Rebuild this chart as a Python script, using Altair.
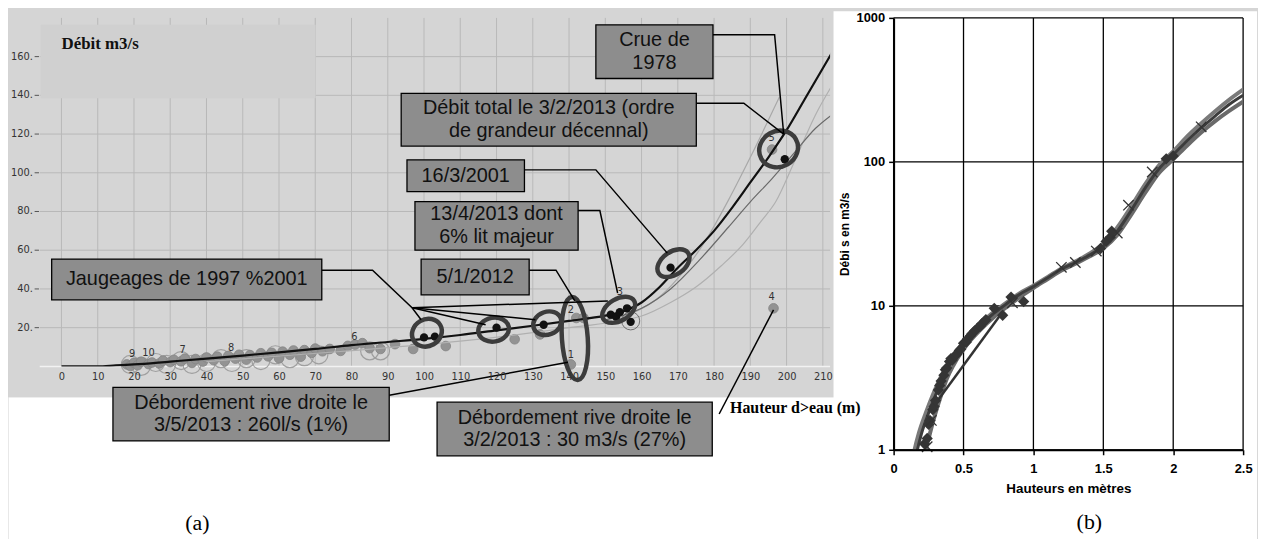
import altair as alt
import pandas as pd

NARROW = "Liberation Sans Narrow, DejaVu Sans Condensed, Liberation Sans"
SANS = "Liberation Sans"
SERIF = "Liberation Serif"

# ================= panel (a) data =================
x_ticks_a = list(range(0, 220, 10))
y_ticks_a = [20, 40, 60, 80, 100, 120, 140, 160]
y_tick_labels_a = ["20.", "40.", "60.", "80.", "100.", "120.", "140.", "160."]

# gray gaugings
gray_x = [18, 19, 20, 21, 22, 24, 25, 27, 28, 30, 31, 33, 34, 36, 37, 39, 40, 42, 43, 45, 46, 48, 49, 51, 52,
          54, 55, 57, 58, 60, 61, 63, 64, 66, 67, 69, 70, 72, 74, 77, 79, 81, 83, 85, 88, 92, 97, 106, 125,
          132, 140.5, 142, 144, 196.4, 196]
gray_y = [1.0, 0.2, 1.8, 0.6, 2.4, 1.2, 2.0, 1.5, 3.0, 2.2, 3.4, 2.6, 4.0, 1.8, 3.8, 2.5, 4.6, 3.2, 5.0, 2.8,
          5.4, 4.0, 6.0, 3.5, 5.8, 4.6, 6.8, 5.2, 7.0, 4.2, 7.6, 6.0, 8.2, 5.0, 8.4, 7.0, 9.2, 7.8, 9.0, 8.0,
          10.6, 11.2, 12.0, 9.4, 9.0, 11.5, 9.0, 10.5, 14.0, 16.5, 1.0, 25.0, 25.0, 30.0, 112.0]

# hollow rings
ring_x = [19, 22, 26, 29, 33, 36, 40, 44, 47, 51, 55, 59, 63, 67, 71, 85, 88]
ring_y = [1, 0, 2, 1, 3, 1, 2, 4, 2, 4, 3, 6, 4, 5, 6, 8, 8]
small_ring_x = [157]
small_ring_y = [23.5]

# black points
dark_x = [100, 103, 120, 133, 151.5, 153, 154, 156, 157, 168, 199.5]
dark_y = [15, 15.4, 20, 21.5, 26.7, 25.6, 28, 30, 23, 51, 107]

# small numeric labels
num_lbl = ["9", "10", "7", "8", "6", "2", "1", "3", "4", "5"]
num_x = [19.5, 24, 33.4, 46.8, 80.8, 140.5, 140.5, 154, 195.9, 195.9]
num_y = [6.2, 7.0, 8.7, 9.7, 15.4, 29, 6, 38.5, 36, 118]

# rating curves
main_x = [0, 10, 15, 20, 30, 40, 50, 60, 70, 80, 90, 100, 110, 120, 130, 140, 150, 155, 160, 165, 170, 175,
          180, 185, 190, 195, 200, 205, 210, 212.5]
main_y = [0, 0, 0.5, 1, 2.5, 4, 5.6, 7.2, 9, 11, 12.6, 14.2, 16.2, 18.6, 21, 23.5, 26.2, 28.5, 33, 41, 51, 60,
          70, 82, 95, 108, 122, 138, 154, 162]
t1_x = [150, 158, 165, 172, 178, 184, 190, 198]
t1_y = [24, 28, 36, 50, 66, 86, 108, 139]
t2_x = [150, 160, 168, 176, 184, 190, 196, 202, 208, 212.5]
t2_y = [24, 30, 40, 55, 72, 85, 97, 110, 123, 130]
t3_x = [40, 77, 110, 140, 160, 168, 175, 182, 188, 193, 197, 202, 208, 212.5]
t3_y = [2.5, 7.7, 13, 20, 26, 33, 41, 52, 63, 75, 85, 105, 130, 145]

# highlight ellipses
ell_x = [100.8, 119.2, 134.0, 141.6, 153.7, 168.8, 197.8]
ell_y = [17.4, 19.0, 22.3, 14.4, 29.2, 53.3, 112.3]
ell_w = [31, 31, 29, 84, 36, 36, 40]
ell_h = [27, 24, 23, 26, 22, 23, 36]
ell_angle = [330, 350, 340, 86, 330, 325, 330]

# annotation boxes
box_text = ["Crue de\n1978", "Débit total le 3/2/2013 (ordre\nde grandeur décennal)", "16/3/2001",
            "13/4/2013 dont\n6% lit majeur", "5/1/2012", "Jaugeages de 1997 %2001",
            "Débordement rive droite le\n3/5/2013 : 260l/s (1%)",
            "Débordement rive droite le\n3/2/2013 : 30 m3/s (27%)"]
box_x1 = [147.4, 93.7, 95.3, 97.5, 99.2, -2.7, 14.2, 103.6]
box_x2 = [179.7, 175.1, 127.7, 142.5, 129.0, 71.8, 90.4, 179.5]
box_y1 = [148.7, 113.8, 90.3, 60.0, 36.9, 34.4, -38.5, -46.2]
box_y2 = [176.4, 141.0, 106.7, 85.1, 55.4, 55.4, -10.8, -18.5]

# connector lines (segment id, x, y)
conn_id = [0, 0, 0, 1, 1, 1, 2, 2, 2, 3, 3, 3, 4, 4, 4, 5, 5, 5, 5, 6, 6, 7, 7, 8, 8, 9, 9, 10, 10]
conn_x = [179.7, 196.7, 199.2, 175.1, 188.2, 199.2, 127.7, 147.4, 167.1, 142.5, 148.5, 153.4,
          129.0, 136.4, 141.6, 71.8, 85.8, 96.7, 99.2, 96.7, 117.0, 96.7, 130.7, 96.7, 150.7,
          90.4, 139.7, 181.4, 196.4]
conn_y = [171.3, 171.3, 120.0, 135.9, 135.9, 120.0, 101.5, 101.5, 58.5, 80.5, 80.5, 37.9,
          49.7, 49.7, 33.8, 49.7, 49.7, 30.3, 24.1, 30.3, 21.5, 30.3, 24.1, 30.3, 33.8,
          -14.9, 2.1, -24.6, 29.2]

# ================= panel (b) data =================
x_ticks_b = [0, 0.5, 1, 1.5, 2, 2.5]
y_ticks_b = [1, 10, 100, 1000]

c1_h = [0.15, 0.17, 0.2, 0.25, 0.3, 0.35, 0.4, 0.5, 0.6, 0.7, 0.8, 0.9, 1.0, 1.1, 1.2, 1.3, 1.4, 1.5, 1.6,
        1.7, 1.8, 1.9, 2.0, 2.1, 2.2, 2.3, 2.4, 2.5]
c1_q = [0.8, 1.0, 1.3, 1.8, 2.4, 3.1, 3.9, 5.4, 7.0, 8.6, 10.2, 12.0, 13.6, 15.6, 18.0, 20.0, 22.5, 26.0,
        33.0, 46.0, 66.0, 90.0, 112.0, 140.0, 172.0, 208.0, 250.0, 290.0]
c2_h = [0.13, 0.15, 0.18, 0.23, 0.28, 0.33, 0.4, 0.5, 0.6, 0.7, 0.8, 0.9, 1.0, 1.1, 1.2, 1.3, 1.4, 1.5, 1.6,
        1.7, 1.8, 1.9, 2.0, 2.1, 2.2, 2.3, 2.4, 2.5]
c2_q = [0.8, 1.0, 1.3, 1.8, 2.4, 3.1, 4.1, 5.6, 7.2, 8.8, 10.4, 12.2, 13.8, 15.8, 18.2, 20.3, 23.0, 27.0,
        35.0, 49.0, 70.0, 95.0, 118.0, 150.0, 185.0, 225.0, 270.0, 318.0]
c3_h = [0.2, 0.23, 0.26, 0.3, 0.34, 0.38, 0.43, 0.52, 0.62, 0.72, 0.82, 0.92, 1.0, 1.1, 1.2, 1.3, 1.4, 1.5,
        1.6, 1.7, 1.8, 1.9, 2.0, 2.1, 2.2, 2.3, 2.4, 2.5]
c3_q = [0.8, 1.0, 1.3, 1.8, 2.4, 3.1, 3.9, 5.3, 6.8, 8.4, 10.0, 11.8, 13.3, 15.3, 17.6, 19.6, 22.0, 25.0,
        31.0, 43.0, 61.0, 84.0, 104.0, 130.0, 160.0, 192.0, 226.0, 262.0]
seg_h = [0.3, 0.77]
seg_q = [2.1, 8.8]

dia_h = [0.22, 0.24, 0.25, 0.26, 0.28, 0.29, 0.3, 0.32, 0.33, 0.34, 0.36, 0.37, 0.38, 0.4, 0.41, 0.42, 0.44,
         0.45, 0.47, 0.48, 0.5, 0.52, 0.53, 0.55, 0.56, 0.58, 0.6, 0.62, 0.63, 0.65, 0.66, 0.72, 0.78, 0.84,
         0.93, 1.48, 1.52, 1.55, 1.56, 1.95, 2.0]
dia_q = [1.1, 1.2, 1.5, 1.6, 1.9, 2.0, 2.2, 2.6, 2.8, 3.0, 3.3, 3.6, 3.7, 4.1, 4.3, 4.2, 4.5, 4.6, 4.9, 5.0,
         5.5, 5.6, 5.9, 6.2, 6.4, 6.7, 7.0, 7.2, 7.5, 7.8, 8.0, 9.6, 8.6, 11.5, 10.7, 25.0, 28.0, 30.0, 33.0,
         105.0, 110.0]
crs_h = [0.24, 0.27, 0.85, 1.2, 1.3, 1.45, 1.6, 1.68, 1.85, 2.2]
crs_q = [1.05, 1.6, 10.5, 18.5, 20.0, 24.0, 32.0, 50.0, 85.0, 175.0]

# ================= panel (a) chart =================
BG = "#d5d5d5"
XS = alt.Scale(domain=[-14.2, 212], nice=False, zero=False)
YS = alt.Scale(domain=[0, 180], nice=False, zero=False)
x_axis = alt.Axis(values=x_ticks_a, grid=False, domain=False, ticks=False, labelFont=NARROW,
                  labelFontSize=11, labelColor="#333", labelPadding=4, zindex=1, title=None,
                  labelFlush=False)


def AX(f):
    return alt.X(f, type="quantitative", scale=XS, axis=x_axis)


def AY(f):
    return alt.Y(f, type="quantitative", scale=YS, axis=None)


# white area under the gray panel (captions zone)
white_a = alt.Chart(pd.DataFrame({"x1": [-14.6], "x2": [213.5], "y1": [-95.0], "y2": [-15.9]})).mark_rect(
    fill="white").encode(x=AX("x1"), x2=alt.X2("x2"), y=AY("y1"), y2=alt.Y2("y2"))
bg = alt.Chart(pd.DataFrame({"x1": [-14.6], "x2": [213.1], "y1": [-15.9], "y2": [180.5]})).mark_rect(
    fill=BG).encode(x=AX("x1"), x2=alt.X2("x2"), y=AY("y1"), y2=alt.Y2("y2"))

vgrid = alt.Chart(pd.DataFrame({"g": x_ticks_a})).mark_rule(color="#b8b8b8", strokeWidth=1).encode(x=AX("g"))
hgrid = alt.Chart(pd.DataFrame({"g": y_ticks_a, "a": [-6.0] * len(y_ticks_a), "b": [212.0] * len(y_ticks_a)})
                  ).mark_rule(color="#b8b8b8", strokeWidth=1).encode(y=AY("g"), x=AX("a"), x2=alt.X2("b"))
edge_b = alt.Chart(pd.DataFrame({"g": [0], "a": [-6.0], "b": [212.0]})).mark_rule(
    color="#f2f2f2", strokeWidth=1.5).encode(y=AY("g"), x=AX("a"), x2=alt.X2("b"))

ytick_df = pd.DataFrame({"y": y_ticks_a, "t": y_tick_labels_a,
                         "lx": [-7.9] * len(y_ticks_a), "a": [-7.4] * len(y_ticks_a), "b": [-6.2] * len(y_ticks_a)})
ytick_marks = alt.Chart(ytick_df).mark_rule(color="#555", strokeWidth=1).encode(
    y=AY("y"), x=AX("a"), x2=alt.X2("b"))
ytick_lbls = alt.Chart(ytick_df).mark_text(font=NARROW, fontSize=11, color="#333", align="right",
                                           baseline="middle").encode(x=AX("lx"), y=AY("y"), text="t:N")

title_box = alt.Chart(pd.DataFrame({"x1": [-5.8], "x2": [70.1], "y1": [138.5], "y2": [176.4]})).mark_rect(
    fill="#d0d0d0").encode(x=AX("x1"), x2=alt.X2("x2"), y=AY("y1"), y2=alt.Y2("y2"))
title_txt = alt.Chart(pd.DataFrame({"x": [0], "y": [166.7], "t": ["Débit m3/s"]})).mark_text(
    font=SERIF, fontWeight="bold", fontSize=17, align="left", baseline="middle", color="#111").encode(
    x=AX("x"), y=AY("y"), text="t:N")

rings = alt.Chart(pd.DataFrame({"x": ring_x, "y": ring_y})).mark_point(
    shape="circle", size=330, filled=False, stroke="#9a9a9a", strokeWidth=1.2, opacity=0.9).encode(
    x=AX("x"), y=AY("y"))
small_ring = alt.Chart(pd.DataFrame({"x": small_ring_x, "y": small_ring_y})).mark_point(
    shape="circle", size=330, filled=False, stroke="#444", strokeWidth=1).encode(x=AX("x"), y=AY("y"))
grays = alt.Chart(pd.DataFrame({"x": gray_x, "y": gray_y})).mark_point(
    shape="circle", size=95, filled=True, fill="#939393", stroke="#858585", strokeWidth=0.8, opacity=1).encode(
    x=AX("x"), y=AY("y"))


def curve(xs, ys, color, width):
    return alt.Chart(pd.DataFrame({"x": xs, "y": ys, "i": list(range(len(xs)))})).mark_line(
        color=color, strokeWidth=width, clip=True, interpolate="monotone").encode(
        x=AX("x"), y=AY("y"), order="i:Q")


c_t3 = curve(t3_x, t3_y, "#b0b0b0", 1.2)
c_t1 = curve(t1_x, t1_y, "#a8a8a8", 1.2)
c_t2 = curve(t2_x, t2_y, "#6a6a6a", 1.2)
c_main = curve(main_x, main_y, "#111111", 2.2)

darks = alt.Chart(pd.DataFrame({"x": dark_x, "y": dark_y})).mark_point(
    shape="circle", size=70, filled=True, fill="#111", opacity=1).encode(x=AX("x"), y=AY("y"))

nums = alt.Chart(pd.DataFrame({"x": num_x, "y": num_y, "t": num_lbl})).mark_text(
    font=NARROW, fontSize=11, color="#333", baseline="middle").encode(x=AX("x"), y=AY("y"), text="t:N")

ell_df = pd.DataFrame({
    "x": ell_x, "y": ell_y,
    "size": [w * w for w in ell_w],
    "angle": ell_angle,
    "shape": ["M -1,0 A 1,{r:.3f} 0 1,1 1,0 A 1,{r:.3f} 0 1,1 -1,0 Z".format(r=h / w) for w, h in zip(ell_w, ell_h)],
})
ellipses = alt.Chart(ell_df).mark_point(filled=False, stroke="#3c3c3c", strokeWidth=4.5, opacity=1).encode(
    x=AX("x"), y=AY("y"), size=alt.Size("size:Q", scale=None),
    angle=alt.Angle("angle:Q", scale=None), shape=alt.Shape("shape:N", scale=None))

conns = alt.Chart(pd.DataFrame({"id": conn_id, "x": conn_x, "y": conn_y, "i": list(range(len(conn_x)))})).mark_line(
    color="#000", strokeWidth=1.5).encode(x=AX("x"), y=AY("y"), detail="id:N", order="i:Q")

box_df = pd.DataFrame({"x1": box_x1, "x2": box_x2, "y1": box_y1, "y2": box_y2, "t": box_text,
                       "cx": [(a + b) / 2 for a, b in zip(box_x1, box_x2)],
                       "cy": [(a + b) / 2 for a, b in zip(box_y1, box_y2)],
                       "two": ["\n" in t for t in box_text]})
boxes = alt.Chart(box_df).mark_rect(fill="#8d8d8d", stroke="#000", strokeWidth=1.3).encode(
    x=AX("x1"), x2=alt.X2("x2"), y=AY("y1"), y2=alt.Y2("y2"))
box_txt1 = alt.Chart(box_df[~box_df["two"]]).mark_text(
    font=SANS, fontSize=20, align="center", baseline="middle", color="#111").encode(
    x=AX("cx"), y=AY("cy"), text="t:N")
box_txt2 = alt.Chart(box_df[box_df["two"]]).mark_text(
    font=SANS, fontSize=20, lineHeight=23, lineBreak="\n", dy=-11.5,
    align="center", baseline="middle", color="#111").encode(x=AX("cx"), y=AY("cy"), text="t:N")

cap_a = alt.Chart(pd.DataFrame({"x": [37.5], "y": [-81], "t": ["(a)"]})).mark_text(
    font=SERIF, fontSize=22, align="center", baseline="middle", color="#000").encode(
    x=AX("x"), y=AY("y"), text="t:N")

left = alt.layer(white_a, bg, vgrid, hgrid, edge_b, ytick_marks, ytick_lbls, title_box, title_txt, rings,
                 grays, c_t3, c_t1, c_t2, c_main, small_ring, darks, nums, ellipses, conns, boxes, box_txt1,
                 box_txt2, cap_a).properties(width=826, height=351)

# ================= panel (b) chart =================
BX = alt.Scale(domain=[0, 2.5], nice=False, zero=False)
BY = alt.Scale(type="log", domain=[1, 1000], nice=False)
bx_axis = alt.Axis(values=x_ticks_b, format="~g", grid=False, zindex=1,
                   domainColor="#000", domainWidth=2, tickColor="#000", tickSize=5, tickWidth=1.5,
                   labelFont=SANS, labelFontWeight="bold", labelFontSize=13, labelColor="#000", labelPadding=8,
                   labelFlush=False, title="Hauteurs en mètres", titleFont=SANS, titleFontWeight="bold",
                   titleFontSize=13.5, titleColor="#000", titlePadding=6)
by_axis = alt.Axis(values=y_ticks_b, format="d", grid=False, zindex=1,
                   domainColor="#000", domainWidth=2, tickColor="#000", tickSize=5, tickWidth=1.5,
                   labelFont=SANS, labelFontWeight="bold", labelFontSize=13, labelColor="#000", labelPadding=4,
                   labelFlush=False, title="Débi s en m3/s", titleFont=SANS, titleFontWeight="bold",
                   titleFontSize=12, titleColor="#000", titlePadding=5)


def BXe(f):
    return alt.X(f, type="quantitative", scale=BX, axis=bx_axis)


def BYe(f):
    return alt.Y(f, type="quantitative", scale=BY, axis=by_axis)


def bcurve(hs, qs, color, width):
    return alt.Chart(pd.DataFrame({"h": hs, "q": qs, "i": list(range(len(hs)))})).mark_line(
        color=color, strokeWidth=width, clip=True, interpolate="monotone").encode(
        x=BXe("h"), y=BYe("q"), order="i:Q")


white_b = alt.Chart(pd.DataFrame({"h1": [-0.43], "h2": [2.6], "q1": [0.2], "q2": [1110.0]})).mark_rect(
    fill="white").encode(x=BXe("h1"), x2=alt.X2("h2"), y=BYe("q1"), y2=alt.Y2("q2"))
bgrid_v = alt.Chart(pd.DataFrame({"g": x_ticks_b})).mark_rule(color="#000", strokeWidth=1.3).encode(x=BXe("g"))
bgrid_h = alt.Chart(pd.DataFrame({"g": y_ticks_b})).mark_rule(color="#000", strokeWidth=1.3).encode(y=BYe("g"))
b1 = bcurve(c2_h, c2_q, "#7a7a7a", 4)
b2 = bcurve(c3_h, c3_q, "#6a6a6a", 4)
b3 = bcurve(c1_h, c1_q, "#3c3c3c", 3)
bseg = bcurve(seg_h, seg_q, "#333333", 2.5)
dia = alt.Chart(pd.DataFrame({"h": dia_h, "q": dia_q})).mark_point(
    shape="diamond", size=130, filled=True, fill="#353535", opacity=1, clip=True).encode(x=BXe("h"), y=BYe("q"))
crs = alt.Chart(pd.DataFrame({"h": crs_h, "q": crs_q})).mark_point(
    shape="M -1,-1 L 1,1 M -1,1 L 1,-1", size=110, filled=False, stroke="#333", strokeWidth=1.3,
    opacity=1).encode(x=BXe("h"), y=BYe("q"))
cap_b = alt.Chart(pd.DataFrame({"h": [1.4], "q": [0.314], "t": ["(b)"]})).mark_text(
    font=SERIF, fontSize=22, align="center", baseline="middle", color="#000").encode(
    x=BXe("h"), y=BYe("q"), text="t:N")
# axis label of panel (a), drawn last so it stays above the white margin
hauteur_txt = alt.Chart(pd.DataFrame({"h": [-1.17], "q": [1.95], "t": ["Hauteur d>eau (m)"]})).mark_text(
    font=SERIF, fontWeight="bold", fontSize=16, align="left", baseline="middle", color="#000").encode(
    x=BXe("h"), y=BYe("q"), text="t:N")

right = alt.layer(white_b, bgrid_v, bgrid_h, b1, b2, b3, bseg, dia, crs, cap_b, hauteur_txt).properties(
    width=352, height=435)

chart = alt.hconcat(left, right, spacing=64, bounds="flush").properties(
    padding={"left": 0, "top": 0, "right": 0, "bottom": 0}
).configure_view(stroke=None).configure(background=BG)

chart.save("out.html", embed_options={"renderer": "svg", "actions": False})
